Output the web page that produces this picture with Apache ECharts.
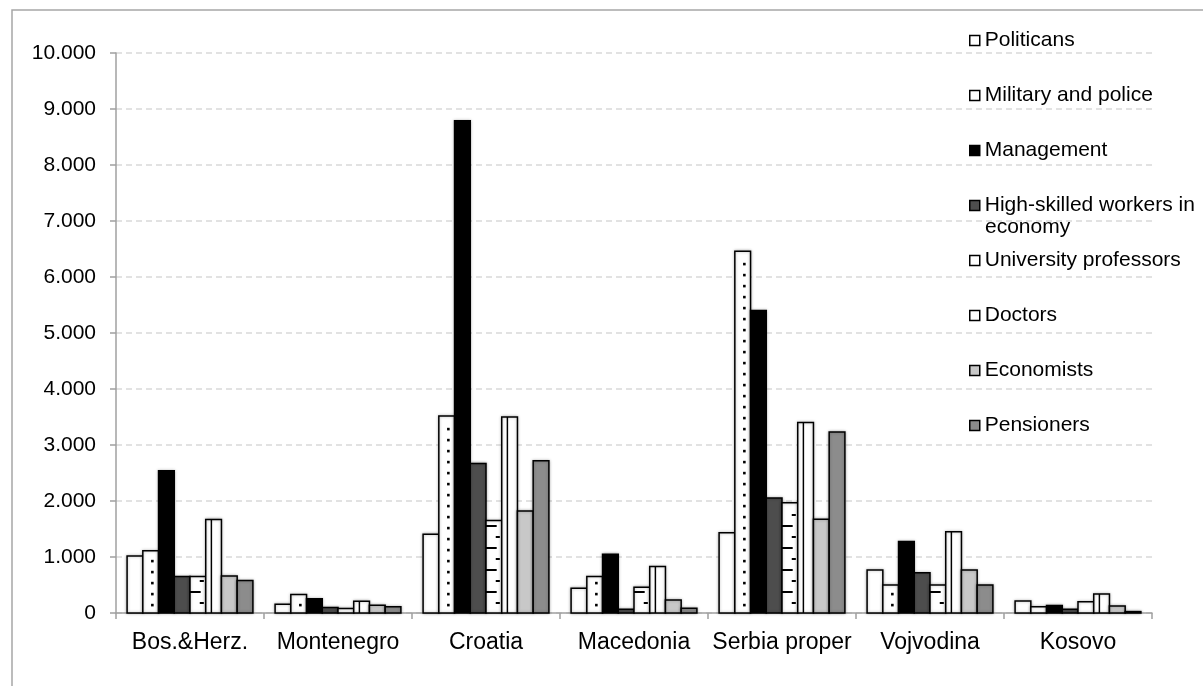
<!DOCTYPE html>
<html>
<head>
<meta charset="utf-8">
<script src="https://cdn.jsdelivr.net/npm/echarts@6/dist/echarts.min.js"></script>
<style>
  html, body { margin: 0; padding: 0; background: #fff; }
  #chart { width: 1203px; height: 686px; }
</style>
</head>
<body>
<div id="chart"></div>
<script>
// data
const categories = ['Bos.&Herz.', 'Montenegro', 'Croatia', 'Macedonia', 'Serbia proper', 'Vojvodina', 'Kosovo'];
const politicians = [1020, 155, 1405, 440, 1435, 770, 215];
const military = [1110, 330, 3520, 650, 6460, 500, 110];
const management = [2540, 255, 8790, 1050, 5400, 1275, 135];
const highSkilled = [650, 100, 2670, 65, 2055, 720, 65];
const professors = [650, 80, 1650, 460, 1970, 500, 200];
const doctors = [1670, 210, 3500, 830, 3400, 1450, 340];
const economists = [660, 140, 1820, 230, 1675, 770, 125];
const pensioners = [580, 110, 2720, 85, 3230, 500, 25];
const yTicks = [0, 1000, 2000, 3000, 4000, 5000, 6000, 7000, 8000, 9000, 10000];

const FONT = '"Liberation Sans", Arial, sans-serif';
const CAT_GAP = 0.15; // share of the category left empty

// name, values, fill, pattern
const seriesDefs = [
    ['Politicans', politicians, '#ffffff', null],
    ['Military and police', military, '#ffffff', 'dots'],
    ['Management', management, '#000000', null],
    ['High-skilled workers in economy', highSkilled, '#4d4d4d', null],
    ['University professors', professors, '#ffffff', 'ruler'],
    ['Doctors', doctors, '#ffffff', 'vline'],
    ['Economists', economists, '#c8c8c8', null],
    ['Pensioners', pensioners, '#8c8c8c', null]
];

function fmt(v) {
    return String(v).replace(/\B(?=(\d{3})+(?!\d))/g, '.');
}

function makeRender(idx, fill, pattern) {
    return function (params, api) {
        const cat = api.value(0);
        const val = api.value(1);
        const band = api.size([1, 0])[0];
        const groupW = band * (1 - CAT_GAP);
        const w = groupW / seriesDefs.length;
        const base = api.coord([cat, 0]);
        const top = api.coord([cat, val]);
        const x = base[0] - groupW / 2 + idx * w;
        const y = top[1];
        const h = base[1] - top[1];
        const children = [{
            type: 'rect',
            shape: { x: x, y: y, width: w, height: h },
            style: {
                fill: fill, stroke: '#000', lineWidth: 1.5,
                shadowBlur: 3, shadowColor: 'rgba(0,0,0,0.3)'
            }
        }];
        if (pattern === 'dots') {
            for (let yy = base[1] - 8; yy > y + 5; yy -= 11) {
                children.push({
                    type: 'rect',
                    shape: { x: x + w * 0.6 - 1.2, y: yy - 1.2, width: 2.6, height: 2.6 },
                    style: { fill: '#000' }
                });
            }
        } else if (pattern === 'ruler') {
            let k = 1;
            for (let yy = base[1] - 10; yy > y + 4; yy -= 11, k++) {
                const long = k % 2 === 0;
                children.push({
                    type: 'line',
                    shape: {
                        x1: long ? x : x + w * 0.62, y1: yy,
                        x2: long ? x + w * 0.68 : x + w * 0.88, y2: yy
                    },
                    style: { stroke: '#000', lineWidth: 2 }
                });
            }
        } else if (pattern === 'vline') {
            children.push({
                type: 'line',
                shape: { x1: x + w * 0.36, y1: y, x2: x + w * 0.36, y2: base[1] },
                style: { stroke: '#000', lineWidth: 1.5 }
            });
        }
        return { type: 'group', children: children };
    };
}

const chart = echarts.init(document.getElementById('chart'), null, { renderer: 'canvas' });

const option = {
    backgroundColor: '#fff',
    animation: false,
    textStyle: { fontFamily: FONT },
    graphic: [
        {
            type: 'rect',
            shape: { x: 12, y: 10, width: 1300, height: 800 },
            style: { fill: 'none', stroke: '#a6a6a6', lineWidth: 1.5 },
            z: 0
        },
        {
            type: 'text',
            left: 985,
            top: 217,
            style: { text: 'economy', fontSize: 21, fontFamily: FONT, fill: '#000' },
            z: 10
        }
    ],
    legend: {
        orient: 'vertical',
        left: 969,
        top: 30,
        padding: 0,
        itemWidth: 10,
        itemHeight: 10,
        itemGap: 34,
        icon: 'rect',
        textStyle: { fontSize: 21, color: '#000', fontFamily: FONT },
        formatter: function (name) {
            return name === 'High-skilled workers in economy' ? 'High-skilled workers in' : name;
        },
        data: seriesDefs.map(d => ({
            name: d[0],
            itemStyle: { color: d[2], borderColor: '#000', borderWidth: 1.5 }
        }))
    },
    grid: { left: 116, right: 51, top: 53, bottom: 73 },
    xAxis: {
        type: 'category',
        data: categories,
        axisLine: { lineStyle: { color: '#a0a0a0', width: 1.5 } },
        axisTick: { show: true, length: 6, lineStyle: { color: '#a0a0a0', width: 1.5 } },
        axisLabel: { interval: 0, fontSize: 23, color: '#000', margin: 18, fontFamily: FONT },
        splitLine: { show: false }
    },
    yAxis: {
        type: 'value',
        min: yTicks[0],
        max: yTicks[yTicks.length - 1],
        interval: 1000,
        axisLine: { show: true, lineStyle: { color: '#a0a0a0', width: 1.5 } },
        axisTick: { show: true, length: 6, lineStyle: { color: '#a0a0a0', width: 1.5 } },
        axisLabel: { fontSize: 21, color: '#000', margin: 20, fontFamily: FONT, formatter: fmt },
        splitLine: { lineStyle: { color: '#d9d9d9', width: 1.5, type: [6, 4] } }
    },
    series: seriesDefs.map((d, i) => ({
        name: d[0],
        type: 'custom',
        renderItem: makeRender(i, d[2], d[3]),
        encode: { x: 0, y: 1 },
        itemStyle: { color: d[2], borderColor: '#000', borderWidth: 1.5 },
        data: d[1].map((v, j) => [j, v]),
        z: 2
    }))
};

chart.setOption(option);
</script>
</body>
</html>
